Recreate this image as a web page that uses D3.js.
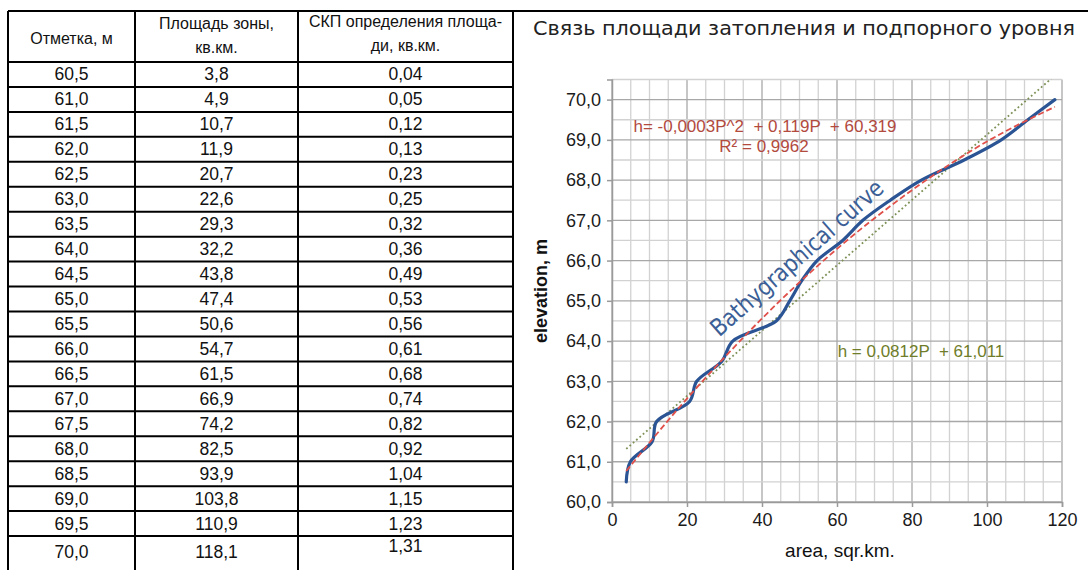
<!DOCTYPE html>
<html lang="ru">
<head>
<meta charset="UTF-8">
<title>Связь площади затопления и подпорного уровня</title>
<style>
  body { margin: 0; background: #fff; overflow: hidden; }
  svg  { display: block; }
  .cell  { font: 17.5px "Liberation Sans", Arial, sans-serif; fill: #111; text-anchor: middle; dominant-baseline: central; }
  .head  { font: 16px "Liberation Sans", Arial, sans-serif; fill: #111; text-anchor: middle; dominant-baseline: central; }
  .tick  { font: 18px "Liberation Sans", Arial, sans-serif; fill: #1a1a1a; }
  .ann   { font: 17px "Liberation Sans", Arial, sans-serif; white-space: pre; text-anchor: middle; }
  .title { font: 20px "DejaVu Sans Condensed", "DejaVu Sans", sans-serif; font-weight: 200; fill: #222; }
</style>
</head>
<body>
<svg id="chart" width="1088" height="570"></svg>

<script src="https://d3js.org/d3.v7.min.js"></script>
<script>
/* ---------------- Data ---------------- */
const elevation = [60.5, 61.0, 61.5, 62.0, 62.5, 63.0, 63.5, 64.0, 64.5, 65.0,
                   65.5, 66.0, 66.5, 67.0, 67.5, 68.0, 68.5, 69.0, 69.5, 70.0];
const area      = [3.8, 4.9, 10.7, 11.9, 20.7, 22.6, 29.3, 32.2, 43.8, 47.4,
                   50.6, 54.7, 61.5, 66.9, 74.2, 82.5, 93.9, 103.8, 110.9, 118.1];
const areaErr   = [0.04, 0.05, 0.12, 0.13, 0.23, 0.25, 0.32, 0.36, 0.49, 0.53,
                   0.56, 0.61, 0.68, 0.74, 0.82, 0.92, 1.04, 1.15, 1.23, 1.31];

const headers = [
  ['Отметка, м'],
  ['Площадь зоны,', 'кв.км.'],
  ['СКП определения площа-', 'ди, кв.км.']
];

// polynomial trend (red dashed)
const polyP = [3.8, 20, 40, 60, 80, 100, 118.1];
const polyH = [60.77, 62.57, 64.56, 66.29, 67.75, 68.96, 69.82];
// linear trend (green dotted), end points
const linP = [3.8, 118.1];
const linH = [61.32, 70.6];

const xTicks = [0, 20, 40, 60, 80, 100, 120];
const yTicks = [60, 61, 62, 63, 64, 65, 66, 67, 68, 69, 70];

const comma = f => v => d3.format(f)(v).replace('.', ',');

const svg = d3.select('#chart');

/* ---------------- Table ---------------- */
const colX   = [8, 135, 298, 513];
const tTop = 11, headBottom = 62, rowH = 24.95, tBottom = 578;
const tbl = svg.append('g');

const rowY = d3.scaleLinear().domain([0, 1]).range([headBottom, headBottom + rowH]);

// horizontal rules
const hLines = [tTop, headBottom].concat(d3.range(1, elevation.length).map(i => rowY(i)), [tBottom]);
tbl.selectAll('line.h').data(hLines).enter().append('line')
  .attr('x1', colX[0]).attr('x2', colX[3])
  .attr('y1', d => d).attr('y2', d => d)
  .attr('stroke', '#000').attr('stroke-width', 2);
tbl.selectAll('line.v').data(colX).enter().append('line')
  .attr('x1', d => d).attr('x2', d => d)
  .attr('y1', tTop).attr('y2', tBottom)
  .attr('stroke', '#000').attr('stroke-width', 2);

// header
headers.forEach((lines, c) => {
  const cx = (colX[c] + colX[c + 1]) / 2;
  const ys = lines.length === 1 ? [38] : (c === 1 ? [23, 47] : [21, 45]);
  lines.forEach((t, k) => tbl.append('text').attr('class', 'head')
    .attr('x', cx).attr('y', ys[k]).text(t));
});

// body
const cols = [elevation.map(comma('.1f')), area.map(comma('.1f')), areaErr.map(comma('.2f'))];
cols.forEach((vals, c) => {
  const cx = (colX[c] + colX[c + 1]) / 2;
  tbl.selectAll(null).data(vals).enter().append('text')
    .attr('class', 'cell')
    .attr('x', cx)
    .attr('y', (d, i) => i === vals.length - 1 ? (c === 2 ? rowY(i) + 10 : rowY(i) + 16) : rowY(i) + rowH / 2)
    .text(d => d);
});

/* ---------------- Chart ---------------- */
svg.append('line').attr('x1', 513).attr('x2', 1088).attr('y1', tTop).attr('y2', tTop)
  .attr('stroke', '#000').attr('stroke-width', 2);

svg.append('text').attr('class', 'title')
  .attr('x', 533).attr('y', 35)
  .attr('textLength', 542).attr('lengthAdjust', 'spacingAndGlyphs')
  .text('Связь площади затопления и подпорного уровня');

const x = d3.scaleLinear().domain([0, 120]).range([612, 1062]);
const y = d3.scaleLinear().domain([60, 70.5]).range([502, 79.5]);

const grid = svg.append('g');
grid.selectAll('line.vx').data(d3.range(0, 121, 5)).enter().append('line')
  .attr('x1', d => x(d)).attr('x2', d => x(d))
  .attr('y1', y(60)).attr('y2', y(70.5))
  .attr('stroke', d => d % 20 === 0 ? '#a8a8a8' : '#d2d2d2').attr('stroke-width', 1.3);
grid.selectAll('line.hy').data(d3.range(60, 70.51, 0.5)).enter().append('line')
  .attr('x1', x(0)).attr('x2', x(120))
  .attr('y1', d => y(d)).attr('y2', d => y(d))
  .attr('stroke', d => Number.isInteger(d) ? '#a8a8a8' : '#d2d2d2').attr('stroke-width', 1.3);

// axes
const yAxis = svg.append('g').attr('transform', `translate(${x(0)},0)`)
  .call(d3.axisLeft(y).tickValues(yTicks).tickFormat(comma('.1f')).tickSize(5).tickPadding(6));
const xAxis = svg.append('g').attr('transform', `translate(0,${y(60)})`)
  .call(d3.axisBottom(x).tickValues(xTicks).tickFormat(d3.format('d')).tickSize(5).tickPadding(6));
[xAxis, yAxis].forEach(a => {
  a.select('.domain').attr('stroke', '#9a9a9a').attr('stroke-width', 1.5);
  a.selectAll('.tick line').attr('stroke', '#9a9a9a').attr('stroke-width', 1.5);
  a.selectAll('.tick text').attr('class', 'tick').attr('font-size', null).attr('font-family', null);
});

svg.append('text')
  .attr('x', 840).attr('y', 557).attr('text-anchor', 'middle')
  .style('font', '19px "Liberation Sans", Arial, sans-serif').attr('fill', '#111')
  .text('area, sqr.km.');
svg.append('text')
  .attr('transform', 'translate(547,291) rotate(-90)').attr('text-anchor', 'middle')
  .style('font', 'bold 18px "Liberation Sans", Arial, sans-serif').attr('fill', '#111')
  .text('elevation, m');

// clip
svg.append('clipPath').attr('id', 'plot')
  .append('rect').attr('x', x(0)).attr('y', y(70.5))
  .attr('width', x(120) - x(0)).attr('height', y(60) - y(70.5));

const lines = svg.append('g').attr('clip-path', 'url(#plot)');

lines.append('path')
  .datum(d3.zip(linP, linH))
  .attr('d', d3.line().x(d => x(d[0])).y(d => y(d[1])))
  .attr('fill', 'none').attr('stroke', '#7d9156').attr('stroke-width', 1.8)
  .attr('stroke-dasharray', '1.8,2.6');

lines.append('path')
  .datum(d3.zip(area, elevation))
  .attr('d', d3.line().x(d => x(d[0])).y(d => y(d[1])).curve(d3.curveCatmullRom.alpha(0.5)))
  .attr('fill', 'none').attr('stroke', '#2b5494').attr('stroke-width', 3.2)
  .attr('stroke-linecap', 'round');

lines.append('path')
  .datum(d3.zip(polyP, polyH))
  .attr('d', d3.line().x(d => x(d[0])).y(d => y(d[1])).curve(d3.curveNatural))
  .attr('fill', 'none').attr('stroke', '#e0504a').attr('stroke-width', 1.8)
  .attr('stroke-dasharray', '6,3');

// annotations
svg.append('text').attr('class', 'ann').attr('fill', '#b24a3e')
  .attr('x', 765).attr('y', 132).text('h= -0,0003P^2  + 0,119P  + 60,319');
svg.append('text').attr('class', 'ann').attr('fill', '#b24a3e')
  .attr('x', 764).attr('y', 152).text('R² = 0,9962');
svg.append('text').attr('class', 'ann').attr('fill', '#6f7d2a')
  .attr('x', 921).attr('y', 357).text('h = 0,0812P  + 61,011');

svg.append('text')
  .attr('transform', 'translate(797,258) rotate(-41.5)')
  .attr('text-anchor', 'middle').attr('dominant-baseline', 'central')
  .attr('textLength', 222).attr('lengthAdjust', 'spacingAndGlyphs')
  .style('font', '200 24px "DejaVu Sans Condensed", "DejaVu Sans", sans-serif')
  .attr('fill', '#3b5f96')
  .text('Bathygraphical curve');
</script>
</body>
</html>
